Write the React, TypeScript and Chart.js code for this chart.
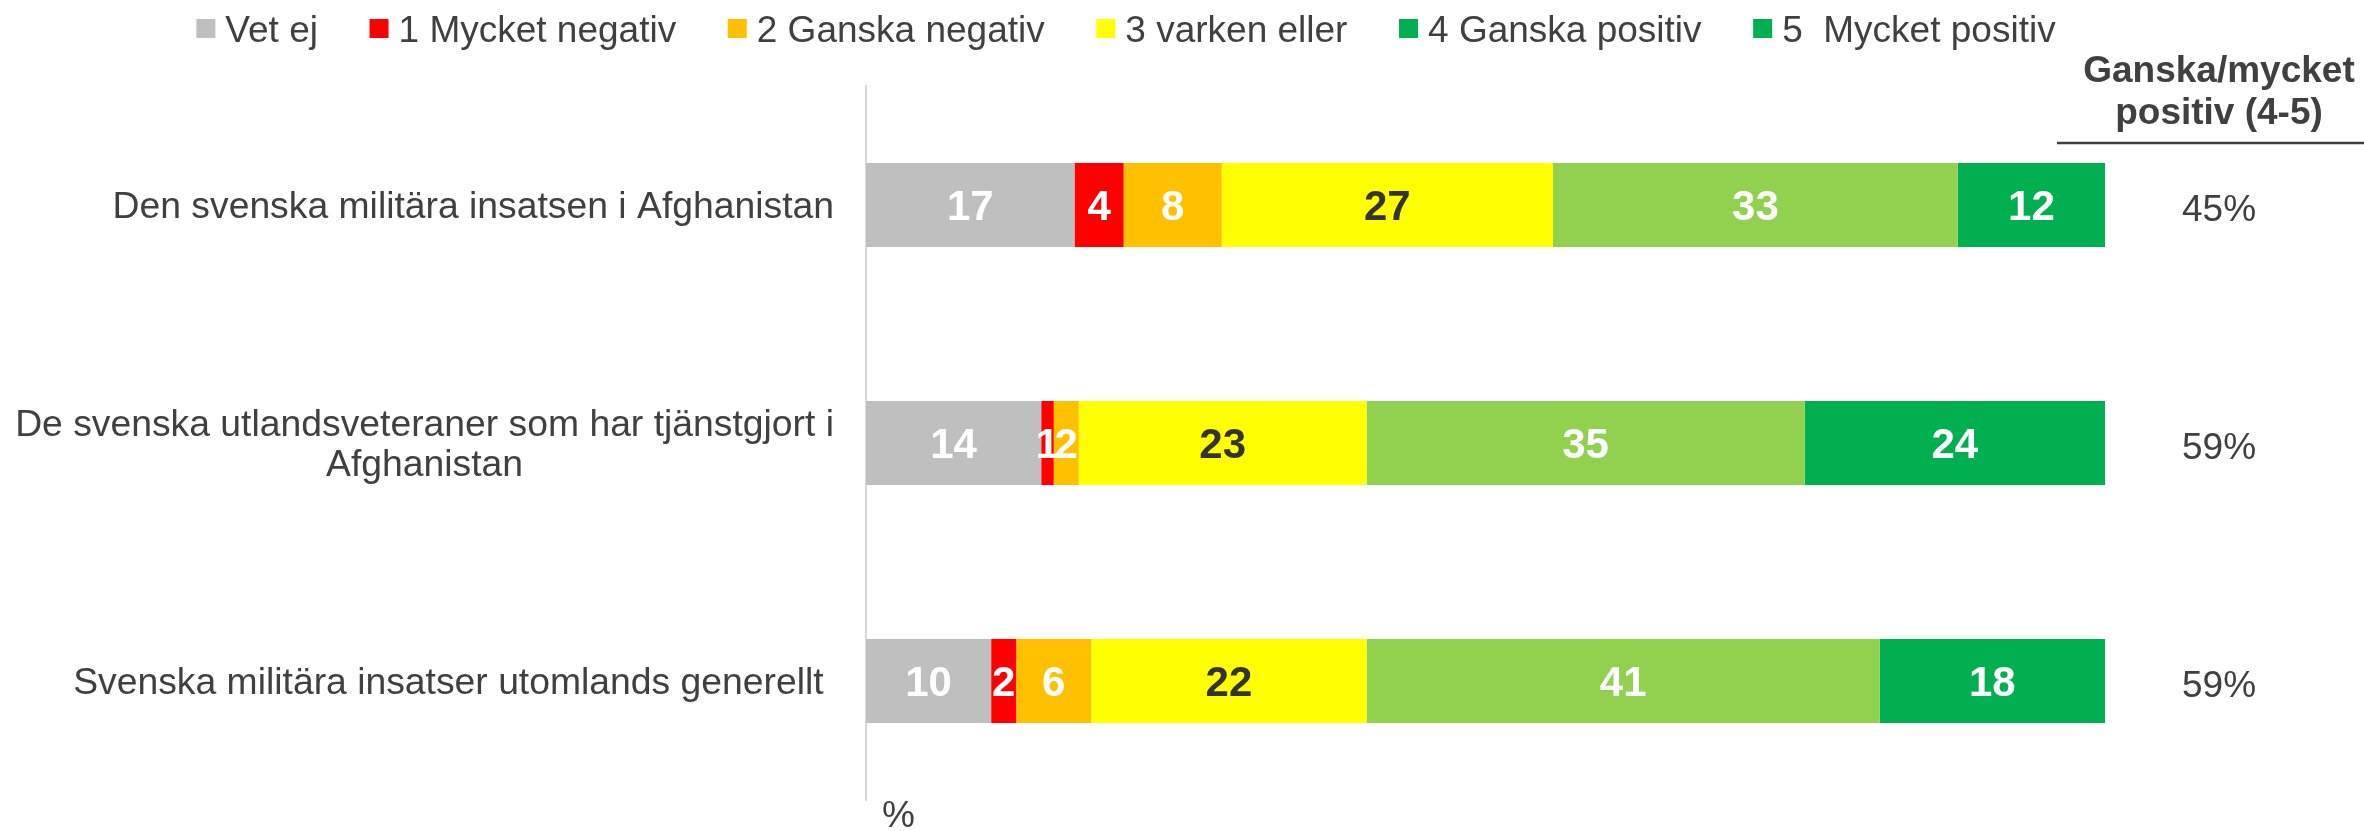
import React, { useEffect, useRef } from "react";
import { Chart, registerables } from "chart.js";

Chart.register(...registerables);

// ---- data ----
const categories: string[][] = [
  ["Den svenska militära insatsen i Afghanistan"],
  ["De svenska utlandsveteraner som har tjänstgjort i", "Afghanistan"],
  ["Svenska militära insatser utomlands generellt "],
];
const seriesNames = [
  "Vet ej",
  "1 Mycket negativ",
  "2 Ganska negativ",
  "3 varken eller",
  "4 Ganska positiv",
  "5  Mycket positiv",
];
const vetEj = [17, 14, 10];
const mycketNegativ = [4, 1, 2];
const ganskaNegativ = [8, 2, 6];
const varkenEller = [27, 23, 22];
const ganskaPositiv = [33, 35, 41];
const mycketPositiv = [12, 24, 18];
const positiveShare = ["45%", "59%", "59%"];
const headerLines = ["Ganska/mycket", "positiv (4-5)"];
const axisUnit = "%";

// ---- styles ----
const barColors = ["#BFBFBF", "#FF0000", "#FFC000", "#FFFF00", "#92D050", "#00B050"];
const legendColors = ["#BFBFBF", "#FF0000", "#FFC000", "#FFFF00", "#00B050", "#00B050"];
const valueColors = ["#FFFFFF", "#FFFFFF", "#FFFFFF", "#333333", "#FFFFFF", "#FFFFFF"];
const FONT = '"Liberation Sans", Arial, sans-serif';
const TEXT = "#404040";

const series = [vetEj, mycketNegativ, ganskaNegativ, varkenEller, ganskaPositiv, mycketPositiv];
const rowTotals = categories.map((_, i) => series.reduce((s, arr) => s + arr[i], 0));

const overlayPlugin = {
  id: "overlay",
  afterDatasetsDraw(chart: any) {
    const ctx: CanvasRenderingContext2D = chart.ctx;
    const area = chart.chartArea;
    const yScale = chart.scales.y;
    ctx.save();

    // value labels inside the segments
    const vSize = 42;
    ctx.font = `bold ${vSize}px ${FONT}`;
    ctx.textAlign = "center";
    ctx.textBaseline = "alphabetic";
    chart.data.datasets.forEach((_: any, di: number) => {
      const meta = chart.getDatasetMeta(di);
      meta.data.forEach((el: any, i: number) => {
        const cx = (el.x + el.base) / 2;
        ctx.fillStyle = valueColors[di];
        ctx.fillText(String(series[di][i]), cx, el.y + vSize * 0.36);
      });
    });

    // category labels (right-aligned block, lines centred within block)
    const lSize = 37.3;
    ctx.font = `${lSize}px ${FONT}`;
    ctx.fillStyle = TEXT;
    const labelRight = area.left - 32;
    const lineH = 40;
    categories.forEach((lines, i) => {
      const y = yScale.getPixelForValue(i);
      const widths = lines.map((l) => ctx.measureText(l).width);
      const w = Math.max(...widths);
      const cx = labelRight - w / 2;
      ctx.textAlign = "center";
      lines.forEach((l, li) => {
        const ly = y + (li - (lines.length - 1) / 2) * lineH;
        ctx.fillText(l, cx, ly + lSize * 0.36);
      });
    });

    // right column: header, rule, values
    const cSize = 37;
    const colX = area.right + 114;
    ctx.font = `bold ${cSize}px ${FONT}`;
    ctx.textAlign = "center";
    ctx.fillText(headerLines[0], colX, 69 + cSize * 0.36);
    ctx.fillText(headerLines[1], colX, 111 + cSize * 0.36);
    ctx.strokeStyle = TEXT;
    ctx.lineWidth = 2.5;
    ctx.beginPath();
    ctx.moveTo(area.right - 48, 143);
    ctx.lineTo(chart.width, 143);
    ctx.stroke();
    ctx.font = `${cSize}px ${FONT}`;
    positiveShare.forEach((p, i) => {
      const y = yScale.getPixelForValue(i);
      ctx.fillText(p, colX, y + 3 + cSize * 0.36);
    });

    // unit label under the axis
    ctx.textAlign = "left";
    ctx.fillText(axisUnit, area.left + 16, 814 + cSize * 0.36);

    // legend
    ctx.font = `${cSize}px ${FONT}`;
    const box = 19;
    const boxGap = 10;
    const itemGap = 51.6;
    const textW = seriesNames.map((n) => ctx.measureText(n).width);
    const total =
      textW.reduce((a, b) => a + b, 0) + seriesNames.length * (box + boxGap) + (seriesNames.length - 1) * itemGap;
    let x = 1126 - total / 2;
    const ly = 28.5;
    seriesNames.forEach((n, i) => {
      ctx.fillStyle = legendColors[i];
      ctx.fillRect(x, ly - box / 2, box, box);
      ctx.fillStyle = TEXT;
      ctx.textAlign = "left";
      ctx.fillText(n, x + box + boxGap, ly + cSize * 0.36);
      x += box + boxGap + textW[i] + itemGap;
    });

    ctx.restore();
  },
};

export default function App() {
  const canvasRef = useRef<HTMLCanvasElement | null>(null);

  useEffect(() => {
    document.body.style.margin = "0";
    const canvas = canvasRef.current;
    if (!canvas) return;
    const chart = new Chart(canvas, {
      type: "bar",
      data: {
        labels: categories.map((c) => c.join(" ")),
        datasets: seriesNames.map((name, di) => ({
          label: name,
          data: series[di].map((v, i) => (v / rowTotals[i]) * 100),
          backgroundColor: barColors[di],
          borderWidth: 0,
          barPercentage: 0.353,
          categoryPercentage: 1,
        })),
      },
      options: {
        indexAxis: "y",
        animation: false,
        responsive: false,
        devicePixelRatio: 1,
        layout: { padding: { top: 86, bottom: 31, left: 866, right: 259 } },
        plugins: {
          legend: { display: false },
          tooltip: { enabled: false },
          title: { display: false },
        },
        scales: {
          x: {
            stacked: true,
            min: 0,
            max: 100,
            display: false,
          },
          y: {
            stacked: true,
            ticks: { display: false },
            grid: { display: false, drawTicks: false },
            border: { display: true, color: "#D9D9D9", width: 2 },
          },
        },
      },
      plugins: [overlayPlugin],
    });
    return () => chart.destroy();
  }, []);

  return (
    <div style={{ width: 2364, height: 831, position: "relative" }}>
      <canvas ref={canvasRef} width={2364} height={831} style={{ display: "block", width: 2364, height: 831 }} />
    </div>
  );
}
